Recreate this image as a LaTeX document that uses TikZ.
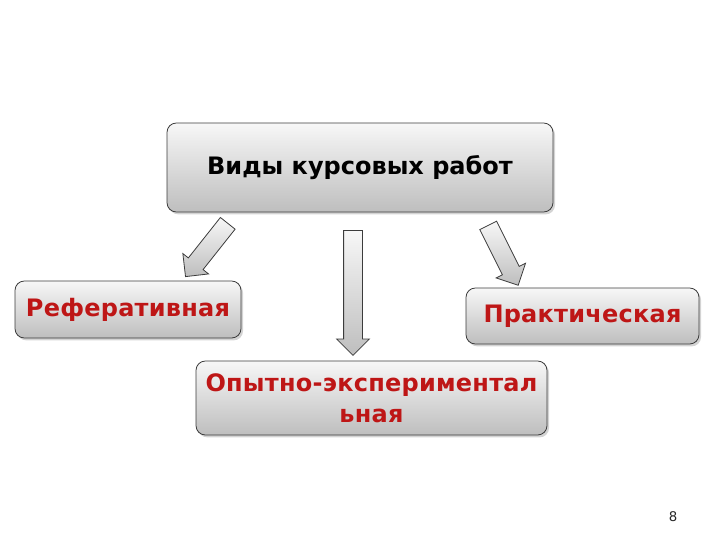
\documentclass[tikz,border=0pt]{standalone}
\usepackage{fontspec}
\setmainfont{DejaVu Sans}
\newfontfamily\spacedfont[LetterSpace=1]{DejaVu Sans}
\usetikzlibrary{shapes.arrows,shadows,shadings}
\definecolor{labelred}{RGB}{190,22,22}
\definecolor{boxtop}{RGB}{247,247,247}
\definecolor{boxbottom}{RGB}{190,190,190}
\definecolor{boxline}{RGB}{60,60,60}

\begin{document}
\begin{tikzpicture}[x=0.75pt,y=-0.75pt,
  box/.style={draw=boxline, line width=0.6pt, rounded corners=7pt, top color=boxtop, bottom color=boxbottom, align=center,
    drop shadow={opacity=0.35, shadow xshift=1.5pt, shadow yshift=-1.8pt}},
  kind/.style={box, text=labelred, font=\spacedfont\bfseries\fontsize{18}{23}\selectfont},
  blockarrow/.style={single arrow, draw=boxline, line width=0.6pt, inner xsep=0pt, inner ysep=6.75pt, anchor=tail,
    minimum width=24pt, single arrow head extend=5.25pt, single arrow head indent=0pt,
    top color=boxtop, bottom color=boxbottom}]

  \def\u{0.75pt};
  \useasboundingbox (0,0) rectangle (720,540);

  %title
  \node[box, font=\bfseries\fontsize{18}{22}\selectfont, minimum width=386*\u, minimum height=89*\u] (types) at (360,167.5) {Виды курсовых работ};

  %kinds
  \foreach \x/\y/\w/\h/\txt/\name in {128/309.5/226/57/Реферативная/ref, 582.5/316/233/56/Практическая/prak, 371.5/398/351/74/{Опытно-экспериментал\\ьная}/opyt}{
    \node[kind, minimum width=\w*\u, minimum height=\h*\u] (\name) at (\x,\y) {\txt};
  }

  %arrows
  \foreach \x/\y/\ang/\len/\name in {228/223/231.6/68/arrL, 353/230/-90/125/arrM, 488/225/-63.4/67/arrR}{
    \node[blockarrow, rotate=\ang, minimum height=\len*\u] (\name) at (\x,\y) {};
  }

  \node[font=\fontsize{10}{12}\selectfont, text=black!85] (page) at (673,517) {8};

\end{tikzpicture}
\end{document}
